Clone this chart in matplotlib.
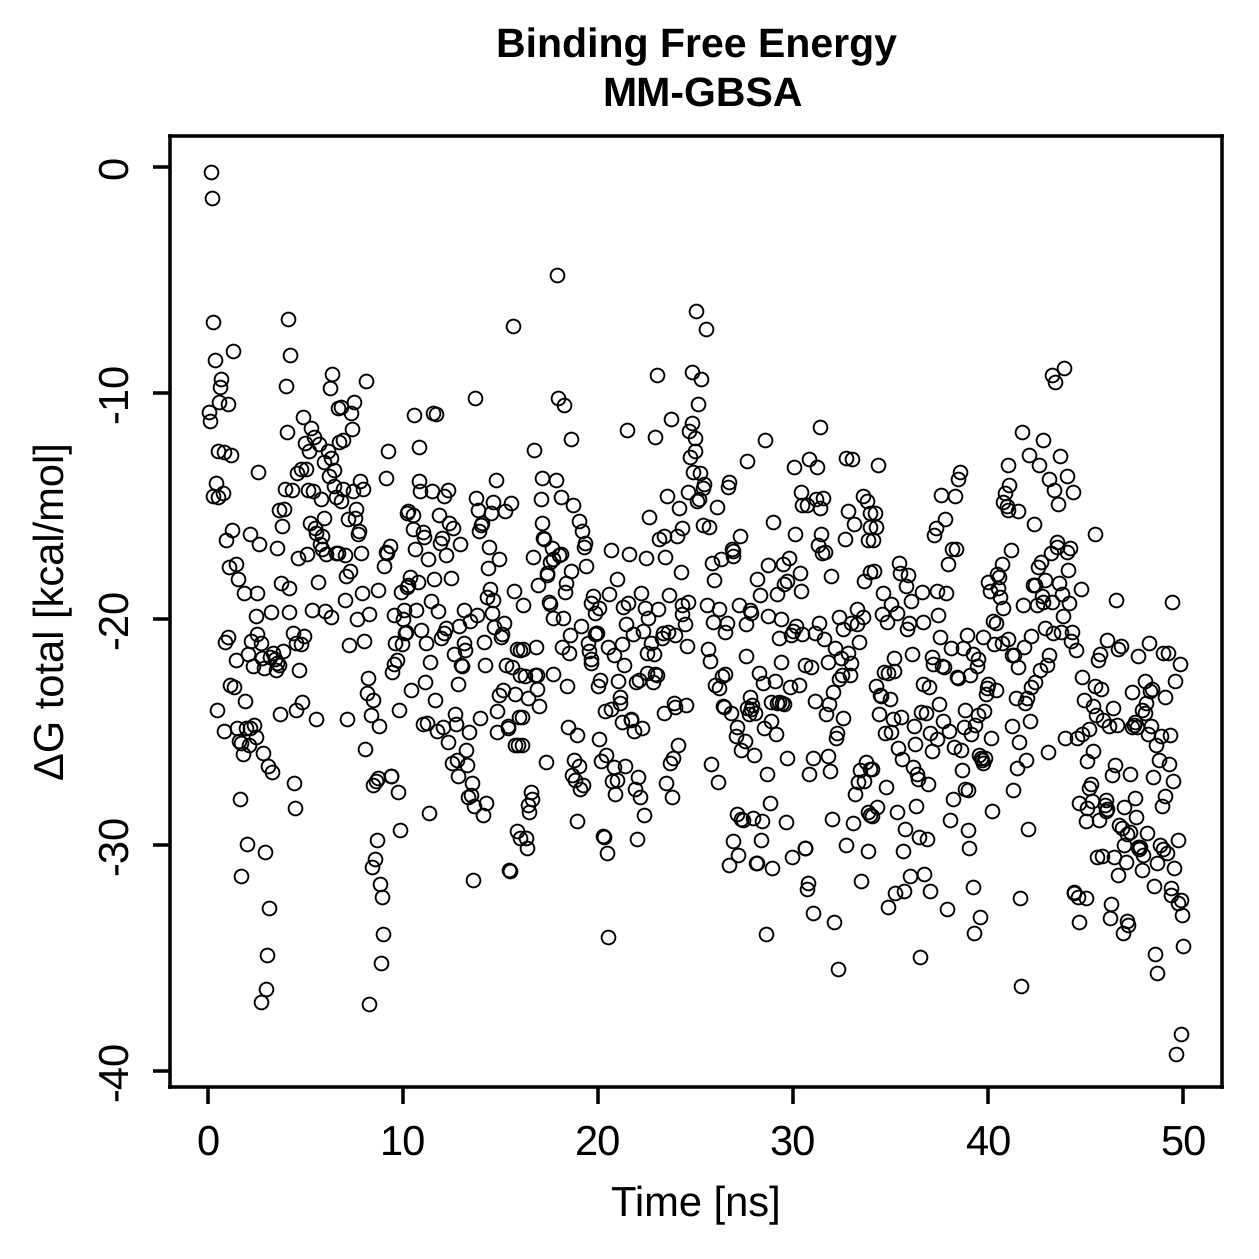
import numpy as np
import matplotlib
matplotlib.use("Agg")
import matplotlib.pyplot as plt

# Snapshot values as (time in ns, total binding free energy in kcal/mol)
frames_upper_early = [
(0.14,-0.21),(0.19,-1.39),(0.24,-6.87),(4.09,-6.74),(1.30,-8.16),(0.34,-8.54),(4.22,-8.33),(0.68,-9.40),(0.63,-9.73),
(6.38,-9.16),(6.24,-9.79),(8.10,-9.45),(3.98,-9.71),(0.58,-10.41),(1.01,-10.49),(0.05,-10.83),(0.10,-11.22),(7.49,-10.38),
(6.65,-10.68),(6.84,-10.60),(7.33,-10.87),(4.89,-11.06),(5.30,-11.55),(4.03,-11.74),(7.38,-11.59),(5.44,-11.93),(4.97,-12.23),
(5.69,-12.24),(6.91,-12.06),(6.72,-12.17),(5.18,-12.57),(6.14,-12.55),(0.51,-12.57),(0.80,-12.63),(1.20,-12.74),(6.32,-12.88),
(5.97,-13.07),(2.58,-13.48),(4.56,-13.53),(4.75,-13.38),(5.01,-13.35),(6.44,-13.42),(6.21,-13.67),(7.78,-13.89),(0.39,-13.98),
(3.95,-14.26),(4.29,-14.28),(5.11,-14.31),(5.40,-14.32),(6.48,-14.13),(6.94,-14.26),(7.45,-14.34),(7.95,-14.25),(0.75,-14.42),
(0.27,-14.54),(0.51,-14.60),(6.58,-14.60),(6.80,-14.76),(5.79,-14.68),(3.66,-15.18),(3.91,-15.15),(7.57,-15.12),(3.79,-15.90),
(5.93,-15.53),(7.18,-15.58),(7.52,-15.53),(5.25,-15.74),(5.47,-15.97),(1.25,-16.06),(0.92,-16.52),(2.17,-16.24),(2.63,-16.67),
(5.54,-16.18),(5.83,-16.34),(7.73,-16.12),(7.69,-16.24),(5.74,-16.70),(3.54,-16.87),(5.85,-16.92),(5.08,-17.11),(4.63,-17.30),
(6.05,-17.14),(6.56,-17.08),(6.68,-17.09),(7.01,-17.17),(7.83,-17.09),(9.11,-17.02),(9.32,-16.77),(9.18,-17.09),(9.03,-17.65),
(1.44,-17.57),(1.09,-17.68),(1.54,-18.25),(1.85,-18.86),(2.50,-18.83),(3.73,-18.42),(4.14,-18.64),(5.62,-18.36),(7.30,-17.89),
(7.08,-18.08),(7.88,-18.85),(8.74,-18.73),(7.04,-19.14),(9.23,-12.57),(10.80,-12.40),(10.58,-10.97),(11.56,-10.88),(11.69,-10.94),
(13.71,-10.24),(15.66,-7.05),(9.15,-13.78),(10.84,-13.91),(10.87,-14.32),(11.50,-14.34),(12.32,-14.28),(12.09,-14.56),(13.74,-14.66),
(14.75,-13.86),(14.60,-14.81),(15.56,-14.85),(15.25,-15.22),(14.50,-15.31),(13.86,-15.18),(10.27,-15.21),(10.18,-15.32),(10.53,-15.40),
(11.83,-15.41),(12.38,-15.74),(12.55,-15.96),(14.03,-15.74),(13.98,-15.86),(13.90,-16.11),(10.53,-16.02),(11.01,-16.14),(11.09,-16.36),
(12.00,-16.43),(11.88,-16.65),(12.94,-16.67),(14.39,-16.80),(10.63,-16.89),(12.19,-17.15),(11.28,-17.36),(14.94,-17.35),(14.34,-17.76),
(11.57,-18.23),(12.44,-18.20),(10.38,-18.16),(10.77,-18.38),(10.27,-18.50),(10.22,-18.60),(9.88,-18.79),(11.44,-19.19),(14.46,-18.69),
(14.29,-19.01),(14.63,-19.16),(15.69,-18.78),
]

frames_lower_early = [
(3.23,-19.68),(4.17,-19.68),(5.33,-19.60),(6.02,-19.65),(6.29,-19.93),(2.44,-19.87),(7.64,-20.02),(8.27,-19.78),(9.52,-19.81),
(10.00,-20.00),(10.07,-19.60),(10.68,-19.60),(11.78,-19.65),(13.15,-19.60),(13.81,-19.82),(13.45,-20.07),(14.55,-19.72),(12.89,-20.31),
(15.20,-20.19),(14.67,-20.36),(15.06,-20.68),(15.03,-20.78),(12.21,-20.38),(12.10,-20.63),(11.95,-20.85),(10.94,-20.50),(10.14,-20.56),
(10.08,-20.60),(11.18,-21.05),(9.61,-21.06),(9.93,-21.09),(13.11,-21.08),(13.20,-21.36),(14.14,-21.02),(12.60,-21.55),(15.83,-21.33),
(16.00,-21.39),(7.98,-20.97),(7.23,-21.16),(1.03,-20.81),(0.89,-21.00),(2.53,-20.66),(2.22,-20.97),(2.70,-21.05),(4.34,-20.60),
(4.94,-20.75),(4.50,-21.05),(4.77,-21.11),(3.86,-21.43),(2.05,-21.53),(1.44,-21.81),(2.29,-22.10),(2.77,-21.73),(2.89,-22.17),
(3.18,-21.67),(3.35,-21.52),(3.42,-21.76),(3.52,-21.96),(3.64,-22.04),(3.49,-22.26),(4.68,-22.27),(12.99,-22.04),(13.03,-22.08),
(11.38,-21.92),(14.19,-22.04),(15.30,-22.05),(15.59,-22.11),(9.69,-21.81),(9.56,-22.00),(9.44,-22.35),(8.19,-22.63),(8.14,-23.28),
(8.48,-23.58),(11.13,-22.80),(10.43,-23.14),(12.84,-22.88),(11.64,-23.57),(15.15,-23.13),(14.91,-23.36),(15.74,-23.32),(16.00,-22.48),
(1.15,-22.92),(1.32,-23.02),(1.90,-23.61),(0.44,-24.03),(4.80,-23.69),(4.53,-24.04),(3.69,-24.20),(5.54,-24.44),(7.15,-24.44),
(8.34,-24.25),(8.79,-24.73),(9.79,-24.04),(12.65,-24.20),(12.70,-24.66),(13.95,-24.38),(14.80,-24.09),(15.97,-24.32),(11.04,-24.66),
(11.23,-24.59),(12.05,-24.76),(11.74,-24.97),(13.40,-25.01),(12.31,-25.46),(14.84,-25.00),(15.37,-24.72),(15.40,-24.84),(15.76,-25.59),
(15.91,-25.59),(0.84,-24.94),(1.50,-24.82),(1.95,-24.84),(2.15,-24.81),(2.36,-24.68),(2.44,-25.22),(1.57,-25.40),(1.68,-25.49),
(2.10,-25.57),(1.78,-25.96),(2.84,-25.93),(3.09,-26.50),(3.28,-26.78),(4.39,-27.26),(8.03,-25.77),(13.25,-25.82),(12.53,-26.36),
(12.77,-26.25),(13.30,-26.46),(12.80,-26.93),(1.64,-27.95),(4.44,-28.36),(8.70,-27.04),(8.60,-27.18),(8.44,-27.35),(9.38,-26.93),
(9.40,-26.97),(9.73,-27.64),(13.54,-27.27),(13.50,-27.79),(13.35,-27.89),(13.62,-28.26),(14.24,-28.16),(14.10,-28.67),(11.35,-28.58),
(9.85,-29.36),(8.65,-29.76),(15.83,-29.38),(16.00,-29.70),(2.00,-29.96),(2.94,-30.31),(8.55,-30.62),(8.39,-30.99),(15.45,-31.13),
(15.47,-31.16),(1.69,-31.36),(8.84,-31.71),(8.94,-32.29),(13.59,-31.55),(3.15,-32.80),(8.99,-33.95),(3.03,-34.88),(8.89,-35.22),
(2.99,-36.37),(2.74,-36.95),(8.24,-37.05),
]

frames_upper_mid = [
(17.90,-4.79),(25.04,-6.36),(25.54,-7.15),(23.04,-9.19),(24.84,-9.07),(25.30,-9.40),(17.95,-10.21),(18.24,-10.52),(25.14,-10.47),
(23.74,-11.14),(24.80,-11.34),(24.68,-11.70),(24.96,-12.00),(21.49,-11.64),(22.94,-11.96),(18.63,-12.05),(31.40,-11.52),(28.55,-12.09),
(16.74,-12.54),(24.97,-12.55),(24.73,-12.85),(30.80,-12.91),(30.05,-13.29),(31.25,-13.26),(32.74,-12.89),(33.04,-12.94),(27.64,-13.01),
(17.15,-13.76),(17.85,-13.85),(24.87,-13.50),(25.25,-13.53),(25.45,-14.04),(25.37,-14.19),(26.72,-13.95),(26.65,-14.14),(24.63,-14.38),
(23.54,-14.56),(25.09,-14.79),(25.20,-14.70),(17.06,-14.69),(18.10,-14.62),(18.74,-14.96),(24.15,-15.10),(26.10,-15.04),(30.40,-14.37),
(31.16,-14.69),(31.55,-14.63),(30.44,-14.96),(30.73,-14.94),(31.40,-15.07),(33.61,-14.54),(33.78,-14.78),(32.80,-15.21),(33.95,-15.30),
(22.63,-15.50),(17.11,-15.77),(19.04,-15.66),(19.20,-16.12),(28.99,-15.72),(33.14,-15.80),(33.95,-15.91),(25.38,-15.83),(25.69,-15.94),
(24.29,-15.99),(27.30,-16.31),(24.05,-16.33),(23.37,-16.33),(23.13,-16.46),(30.09,-16.24),(31.45,-16.22),(32.65,-16.45),(33.86,-16.50),
(17.16,-16.42),(17.23,-16.48),(19.33,-16.64),(19.28,-16.83),(17.62,-16.84),(31.30,-16.73),(31.47,-17.09),(31.66,-17.04),(20.65,-16.95),
(21.59,-17.14),(22.44,-17.32),(23.45,-17.27),(16.65,-17.26),(18.10,-17.11),(18.02,-17.15),(17.71,-17.33),(17.54,-17.46),(26.86,-16.92),
(26.94,-16.98),(26.94,-17.20),(26.32,-17.35),(25.83,-17.52),(29.81,-17.32),(29.50,-17.58),(28.70,-17.60),(19.40,-17.64),(18.60,-17.86),
(24.24,-17.91),(17.37,-17.98),(17.37,-18.07),(30.34,-17.98),(31.95,-18.08),(20.99,-18.22),(25.93,-18.29),(28.15,-18.23),(33.64,-18.30),
(33.95,-17.91),(18.34,-18.39),(16.94,-18.51),(29.68,-18.30),(29.54,-18.47),(18.29,-18.79),(20.58,-18.88),(22.19,-18.83),(23.64,-18.94),
(28.29,-18.95),(29.20,-18.91),(30.41,-18.76),(19.73,-19.00),(17.50,-19.26),(17.53,-19.32),(16.17,-19.38),(19.66,-19.28),(20.07,-19.53),
(21.30,-19.45),(21.56,-19.31),(22.41,-19.53),(23.10,-19.56),(24.60,-19.23),(24.33,-19.38),(25.57,-19.38),(26.19,-19.56),(27.24,-19.38),
(27.80,-19.60),(33.26,-19.56),
]

frames_lower_mid = [
(17.71,-19.97),(18.22,-19.97),(19.85,-19.72),(19.13,-20.31),(18.56,-20.69),(19.90,-20.60),(19.95,-20.63),(19.87,-20.66),(21.44,-20.21),
(22.58,-19.97),(22.29,-20.53),(21.81,-20.66),(24.46,-20.24),(24.31,-19.78),(23.95,-20.69),(23.61,-20.56),(23.35,-20.60),(23.26,-20.85),
(24.55,-21.20),(21.21,-21.10),(20.53,-21.25),(20.80,-21.58),(19.47,-21.08),(19.54,-21.43),(19.62,-21.79),(19.64,-21.96),(21.35,-22.04),
(22.74,-21.08),(22.50,-21.49),(22.87,-21.55),(16.80,-21.24),(16.17,-21.34),(18.14,-21.25),(18.50,-21.49),(25.66,-21.31),(25.74,-21.87),
(25.88,-20.13),(26.60,-20.19),(26.50,-20.58),(27.57,-20.22),(27.83,-19.75),(28.73,-19.87),(29.37,-20.01),(30.14,-20.29),(30.02,-20.52),
(29.88,-20.71),(30.46,-20.66),(29.30,-20.83),(31.35,-20.16),(31.14,-20.60),(31.61,-20.87),(32.34,-19.90),(32.55,-20.43),(32.97,-20.16),
(33.30,-20.22),(33.57,-19.90),(33.40,-21.00),(32.15,-21.27),(32.84,-21.52),(32.44,-21.74),(32.96,-21.96),(31.78,-21.92),(29.38,-21.92),
(27.61,-21.64),(30.62,-22.04),(30.92,-22.11),(28.26,-22.40),(28.44,-22.82),(29.06,-22.76),(29.85,-23.00),(30.31,-22.94),(26.51,-22.45),
(26.34,-22.52),(26.00,-22.94),(26.21,-23.05),(32.92,-22.48),(32.51,-22.48),(32.38,-22.66),(32.07,-23.22),(31.86,-23.76),(31.11,-23.61),
(31.69,-24.20),(32.58,-24.37),(27.81,-23.46),(27.88,-23.80),(27.62,-23.95),(27.83,-24.00),(27.73,-24.20),(28.05,-24.17),(26.82,-24.17),
(26.46,-23.88),(26.39,-23.84),(28.85,-23.66),(29.16,-23.73),(29.26,-23.67),(29.42,-23.72),(29.56,-23.76),(28.85,-24.50),(28.50,-24.84),
(29.11,-25.09),(27.11,-24.79),(27.06,-25.18),(27.54,-25.40),(27.35,-25.80),(28.02,-26.00),(29.71,-26.15),(31.04,-26.17),(31.78,-26.05),
(32.27,-25.06),(32.19,-25.25),(33.73,-26.33),(33.44,-26.68),(33.95,-26.65),(30.84,-26.86),(31.90,-26.73),(28.65,-26.85),(25.80,-26.42),
(26.16,-27.21),(33.33,-27.20),(33.66,-27.15),(33.20,-27.76),(28.80,-28.14),(27.15,-28.63),(27.35,-28.85),(27.42,-28.89),(27.97,-28.80),
(28.39,-28.92),(29.64,-28.98),(32.00,-28.86),(33.10,-29.03),(33.86,-28.56),(33.95,-28.69),(26.91,-29.82),(28.34,-29.79),(32.70,-30.02),
(30.62,-30.13),(30.59,-30.15),(33.86,-30.28),(27.20,-30.46),(29.95,-30.54),(26.73,-30.89),(28.08,-30.78),(28.17,-30.82),(28.94,-31.00),
(33.50,-31.59),(30.75,-31.67),(30.70,-31.93),(31.01,-33.00),(32.10,-33.42),(28.60,-33.94),(20.49,-34.07),(32.31,-35.49),(24.51,-23.82),
(23.90,-23.73),(23.97,-23.88),(23.38,-24.14),(21.12,-23.46),(21.13,-23.70),(20.68,-23.97),(20.34,-24.07),(21.21,-24.57),(21.68,-24.41),
(21.69,-24.47),(21.85,-24.94),(22.27,-24.82),(18.44,-24.76),(18.91,-25.13),(20.05,-25.31),(24.10,-25.56),(23.86,-26.14),(23.69,-26.36),
(17.35,-26.31),(18.79,-26.24),(19.00,-26.50),(20.39,-26.00),(20.17,-26.27),(20.84,-26.54),(21.40,-26.50),(18.68,-26.92),(18.82,-27.13),
(19.25,-27.36),(19.10,-27.51),(22.05,-26.98),(20.74,-27.17),(20.99,-27.13),(20.88,-27.76),(21.90,-27.52),(22.15,-27.88),(23.49,-27.27),
(23.80,-27.89),(22.36,-28.69),(18.94,-28.94),(16.55,-27.66),(16.63,-27.98),(16.43,-28.23),(16.48,-28.54),(20.27,-29.60),(20.30,-29.63),
(22.00,-29.75),(20.44,-30.35),(16.31,-29.70),(16.34,-30.15),(17.71,-22.43),(16.27,-22.52),(16.77,-22.48),(16.89,-22.48),(18.39,-22.96),
(16.89,-23.11),(16.41,-23.50),(16.99,-23.84),(16.12,-24.32),(20.10,-22.70),(19.98,-22.95),(21.04,-22.73),(21.93,-22.79),(22.12,-22.70),
(22.50,-22.41),(22.80,-22.77),(22.92,-22.43),(23.00,-22.48),(16.08,-25.57),
]

frames_upper_late = [
(43.91,-8.88),(43.29,-9.20),(43.45,-9.50),(41.76,-11.71),(42.81,-12.06),(42.12,-12.74),(43.71,-12.79),(41.01,-13.17),(42.61,-13.20),
(34.38,-13.17),(38.56,-13.50),(38.46,-13.82),(43.11,-13.81),(44.07,-13.69),(41.09,-14.07),(43.40,-14.28),(44.36,-14.37),(40.87,-14.41),
(37.59,-14.51),(38.31,-14.56),(40.79,-14.81),(40.96,-14.99),(43.61,-14.91),(41.04,-15.18),(41.52,-15.22),(34.20,-15.30),(34.24,-15.91),
(34.12,-16.50),(37.79,-15.56),(42.34,-15.81),(37.31,-15.99),(37.25,-16.30),(45.47,-16.25),(43.55,-16.61),(38.14,-16.92),(38.36,-16.90),
(41.16,-16.96),(43.52,-16.80),(44.21,-16.87),(44.03,-17.05),(43.21,-17.09),(37.95,-17.57),(40.72,-17.57),(42.70,-17.49),(42.58,-17.71),
(44.10,-17.83),(35.45,-17.54),(35.49,-17.95),(35.91,-18.05),(34.14,-17.88),(40.44,-18.02),(40.58,-18.13),(40.02,-18.36),(40.10,-18.76),
(40.53,-18.64),(40.61,-19.01),(42.92,-18.29),(42.33,-18.50),(42.40,-18.50),(43.66,-18.42),(44.75,-18.67),(43.79,-18.89),(42.75,-18.97),
(35.79,-18.53),(34.60,-18.86),(36.60,-18.81),(37.37,-18.76),(37.86,-18.83),(36.03,-19.22),(35.04,-19.34),(46.55,-19.17),(49.45,-19.26),
(43.30,-19.23),(42.84,-19.26),(44.15,-19.29),(41.81,-19.38),(42.50,-19.38),(40.75,-19.50),
]

frames_lower_late = [
(34.55,-19.78),(35.35,-19.75),(34.80,-20.15),(35.97,-20.16),(35.86,-20.44),(36.68,-20.12),(37.45,-19.81),(40.27,-20.09),(40.39,-20.18),
(43.86,-19.87),(42.94,-20.41),(43.35,-20.60),(43.74,-20.58),(44.29,-20.58),(44.24,-20.97),(44.51,-21.37),(42.21,-20.74),(41.85,-21.26),
(41.00,-20.88),(40.70,-21.08),(40.33,-21.12),(39.76,-20.80),(38.90,-20.72),(37.54,-20.78),(38.08,-21.27),(38.70,-21.27),(39.21,-21.56),
(39.51,-21.77),(39.42,-22.07),(36.10,-21.53),(35.20,-21.74),(37.14,-21.70),(37.20,-22.01),(37.62,-22.08),(37.74,-22.14),(39.08,-22.46),
(38.39,-22.59),(38.48,-22.62),(41.22,-21.60),(41.33,-21.60),(41.55,-22.11),(43.15,-21.58),(43.03,-22.02),(42.65,-22.27),(42.41,-22.79),
(42.22,-23.02),(41.98,-23.51),(41.90,-23.72),(41.42,-23.50),(39.98,-22.88),(39.93,-23.04),(40.41,-23.16),(39.88,-23.32),(36.65,-22.89),
(36.97,-23.00),(34.67,-22.35),(34.89,-22.37),(35.16,-22.32),(34.26,-22.95),(34.46,-23.36),(34.50,-23.40),(34.97,-23.52),(37.49,-23.78),
(38.80,-24.04),(39.80,-24.09),(39.51,-24.25),(36.57,-24.12),(36.81,-24.17),(34.41,-24.22),(35.11,-24.44),(35.54,-24.35),(36.19,-24.72),
(37.71,-24.50),(39.35,-24.69),(38.75,-24.78),(38.02,-24.97),(37.00,-25.06),(39.14,-25.09),(34.70,-25.04),(35.01,-25.02),(37.40,-25.31),
(40.15,-25.27),(41.22,-24.72),(42.15,-24.53),(41.61,-25.44),(36.26,-25.55),(35.40,-25.71),(37.11,-25.84),(38.25,-25.68),(38.60,-25.80),
(35.61,-26.18),(39.52,-26.03),(39.85,-26.17),(39.71,-26.24),(39.76,-26.36),(39.65,-26.14),(41.95,-26.23),(41.47,-26.58),(43.06,-25.87),
(38.65,-26.70),(36.14,-26.54),(36.38,-26.86),(36.43,-27.10),(36.90,-27.32),(34.03,-26.65),(34.75,-27.45),(38.82,-27.52),(38.99,-27.58),
(38.19,-27.96),(41.30,-27.58),(36.29,-28.29),(34.29,-28.30),(34.03,-28.70),(35.32,-28.52),(40.20,-28.49),(38.05,-28.90),(38.96,-29.34),
(35.74,-29.29),(36.44,-29.63),(36.85,-29.75),(42.05,-29.28),(35.66,-30.28),(39.04,-30.15),(36.00,-31.37),(36.73,-31.30),(35.71,-32.02),
(35.23,-32.12),(37.04,-32.02),(34.85,-32.76),(37.90,-32.83),(39.25,-31.86),(39.59,-33.17),(39.30,-33.88),(41.66,-32.35),(36.51,-34.94),
(41.71,-36.22),(46.12,-20.93),(46.80,-21.18),(46.67,-21.33),(45.74,-21.55),(45.64,-21.81),(47.69,-21.62),(48.25,-21.06),(48.97,-21.52),
(49.21,-21.52),(49.83,-22.00),(44.80,-22.58),(45.51,-22.97),(45.80,-23.08),(48.05,-22.73),(48.43,-23.08),(48.30,-23.20),(47.37,-23.23),
(49.61,-22.73),(49.06,-23.47),(44.91,-23.60),(45.40,-23.85),(46.41,-23.92),(48.12,-23.73),(47.88,-24.01),(48.05,-24.15),(45.54,-24.25),
(45.91,-24.47),(46.19,-24.72),(46.63,-24.69),(47.53,-24.54),(47.37,-24.76),(47.62,-24.76),(47.50,-24.69),(48.36,-24.75),(45.18,-24.85),
(44.82,-25.09),(44.58,-25.25),(43.95,-25.25),(48.20,-25.07),(48.87,-25.18),(49.33,-25.13),(48.61,-25.57),(45.37,-25.86),(45.09,-26.27),
(48.75,-26.23),(49.26,-26.40),(46.51,-26.48),(46.34,-26.89),(47.30,-26.87),(48.46,-26.99),(49.51,-27.17),(45.26,-27.30),(45.19,-27.49),
(47.56,-27.91),(49.10,-27.82),(48.91,-28.29),(44.68,-28.13),(45.32,-28.04),(45.06,-28.38),(46.05,-28.00),(45.98,-28.23),(46.12,-28.42),
(46.05,-28.48),(46.97,-28.31),(47.61,-28.75),(45.00,-28.92),(45.69,-28.91),(46.73,-29.11),(46.89,-29.26),(47.28,-29.41),(47.11,-29.51),
(48.15,-29.45),(49.76,-29.76),(46.99,-30.00),(47.71,-30.11),(47.79,-30.11),(47.73,-30.17),(48.82,-29.98),(48.99,-30.18),(49.16,-30.34),
(47.96,-30.43),(45.57,-30.52),(45.86,-30.47),(46.46,-30.52),(47.06,-30.75),(48.67,-30.78),(49.55,-31.03),(47.90,-31.12),(46.69,-31.33),
(48.49,-31.82),(49.37,-31.90),(49.40,-32.21),(49.88,-32.43),(49.76,-32.58),(49.95,-33.10),(44.43,-32.07),(44.41,-32.14),(44.63,-32.32),
(45.03,-32.33),(46.29,-32.61),(46.26,-33.22),(44.65,-33.39),(47.14,-33.35),(47.19,-33.54),(46.94,-33.88),(48.56,-34.82),(49.99,-34.45),
(48.65,-35.68),(49.91,-38.36),(49.66,-39.23),
]

x_ticks = [0, 10, 20, 30, 40, 50]
y_ticks = [0, -10, -20, -30, -40]
title_first = "Binding Free Energy"
title_second = "MM-GBSA"
x_label = "Time [ns]"
y_label = "\u0394G total [kcal/mol]"

plt.rcParams["font.family"] = ["Liberation Sans", "DejaVu Sans"]
plt.rcParams["axes.unicode_minus"] = False
plt.rcParams["text.hinting"] = "no_hinting"

SIZE = 1259
DPI = 300
fig = plt.figure(figsize=(SIZE / DPI, SIZE / DPI), dpi=DPI)
ax = fig.add_axes([170 / SIZE, 1 - 1087 / SIZE, (1222 - 170) / SIZE, (1087 - 136) / SIZE])

frames = np.array(frames_upper_early + frames_lower_early + frames_upper_mid
                  + frames_lower_mid + frames_upper_late + frames_lower_late)
ax.plot(frames[:, 0], frames[:, 1], linestyle="none", marker="o", markersize=3.3,
        markerfacecolor="none", markeredgecolor="black", markeredgewidth=0.45)

ax.set_xlim(-1.95, 52.0)
ax.set_ylim(-40.71, 1.37)
for spine in ax.spines.values():
    spine.set_linewidth(0.85)

ax.set_xticks(x_ticks)
ax.set_yticks(y_ticks)
ax.set_yticklabels([str(v) for v in y_ticks], rotation=90, va="center")
ax.tick_params(axis="both", length=4.1, width=0.85, labelsize=10, color="black")
ax.tick_params(axis="x", pad=4.8)
ax.tick_params(axis="y", pad=4.2)

fig.text(696 / SIZE, 1 - 47 / SIZE, title_first, ha="center", va="center",
         fontsize=9.85, fontweight="bold")
fig.text(702 / SIZE, 1 - 96 / SIZE, title_second, ha="center", va="center",
         fontsize=9.85, fontweight="bold")
fig.text(696 / SIZE, 1 - 1205 / SIZE, x_label, ha="center", va="center", fontsize=10)
fig.text(53 / SIZE, 1 - 611 / SIZE, y_label, ha="center", va="center", rotation=90, fontsize=10)

fig.savefig("out.png", dpi=DPI)
